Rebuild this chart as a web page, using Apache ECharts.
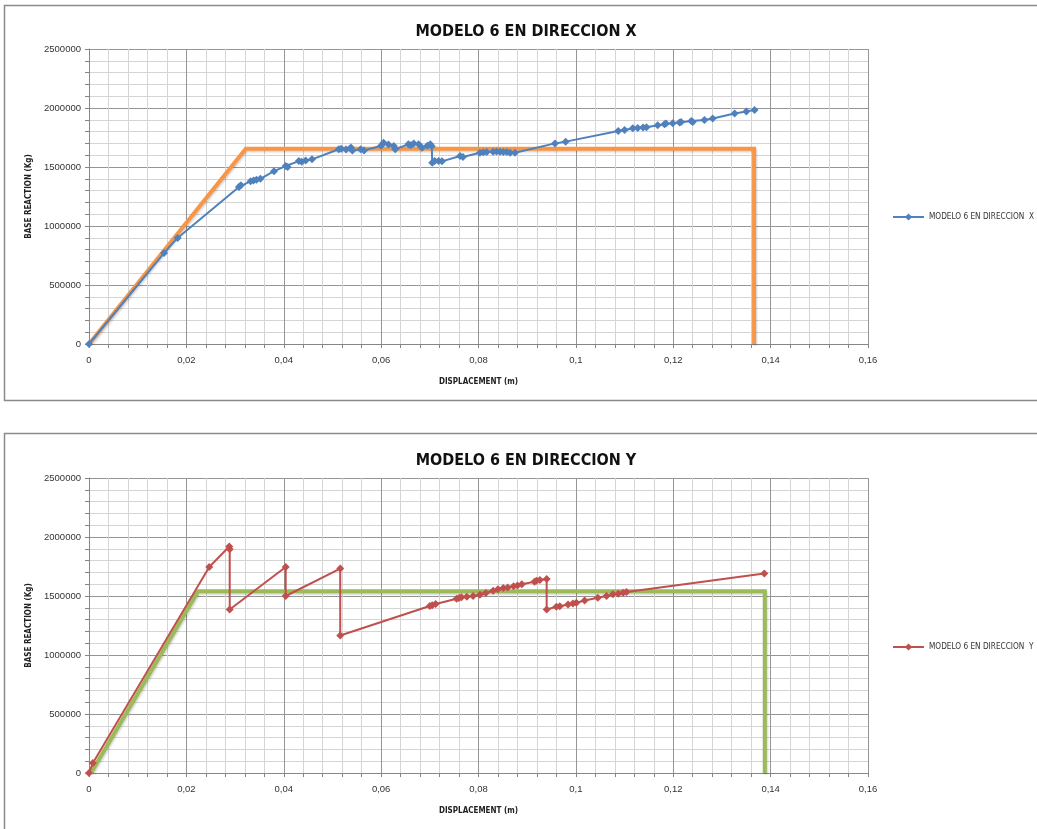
<!DOCTYPE html>
<html>
<head>
<meta charset="utf-8">
<script src="https://cdn.jsdelivr.net/npm/echarts@6/dist/echarts.min.js"></script>
<style>
  html, body { margin: 0; padding: 0; background: #ffffff; }
  #chart { width: 1037px; height: 829px; }
</style>
</head>
<body>
<div id="chart"></div>
<script>
// ---- Titles, axis names and tick settings ----
const titleX = 'MODELO 6 EN DIRECCION X';
const titleY = 'MODELO 6 EN DIRECCION Y';
const seriesNameX = 'MODELO 6 EN DIRECCION  X';
const seriesNameY = 'MODELO 6 EN DIRECCION  Y';
const xAxisName = 'DISPLACEMENT (m)';
const yAxisName = 'BASE REACTION (Kg)';
const dispTicks = [0, 0.02, 0.04, 0.06, 0.08, 0.1, 0.12, 0.14, 0.16];
const forceTicks = [0, 500000, 1000000, 1500000, 2000000, 2500000];

// ---- Pushover curve, X direction (displacement m, base reaction Kg) ----
const dispX = [0, 0.0154, 0.0182, 0.0308, 0.0312, 0.0332, 0.0338, 0.0344, 0.0352, 0.0380,
  0.0404, 0.0408, 0.0431, 0.0437, 0.0445, 0.0458, 0.0513, 0.0518, 0.0528, 0.0538,
  0.0541, 0.0558, 0.0565, 0.0600, 0.0605, 0.0615, 0.0626, 0.0629, 0.0656, 0.0661,
  0.0667, 0.0677, 0.0684, 0.0695, 0.0701, 0.0704, 0.0705, 0.0710, 0.0718, 0.0725,
  0.0762, 0.0768, 0.0803, 0.0810, 0.0817, 0.0830, 0.0837, 0.0844, 0.0851, 0.0858,
  0.0865, 0.0875, 0.0957, 0.0979, 0.1087, 0.1100, 0.1117, 0.1127, 0.1138, 0.1145,
  0.1168, 0.1182, 0.1185, 0.1199, 0.1213, 0.1216, 0.1237, 0.1240, 0.1264, 0.1281,
  0.1326, 0.1350, 0.1367];
const forceX = [0, 771000, 899000, 1330000, 1345000, 1380000, 1385000, 1392000, 1400000, 1465000,
  1508000, 1500000, 1550000, 1545000, 1556000, 1565000, 1650000, 1655000, 1648000, 1665000,
  1640000, 1650000, 1640000, 1680000, 1706000, 1690000, 1678000, 1650000, 1692000, 1685000,
  1700000, 1692000, 1664000, 1680000, 1692000, 1675000, 1537000, 1550000, 1550000, 1548000,
  1593000, 1585000, 1621000, 1625000, 1627000, 1630000, 1632000, 1630000, 1628000, 1627000,
  1621000, 1621000, 1700000, 1715000, 1805000, 1814000, 1828000, 1831000, 1834000, 1837000,
  1854000, 1862000, 1868000, 1871000, 1877000, 1882000, 1890000, 1882000, 1899000, 1911000,
  1953000, 1970000, 1984000];

// Idealized bilinear curve, X direction
const bilinDispX = [0, 0.0322, 0.1366, 0.1366];
const bilinForceX = [0, 1655000, 1655000, 0];

// ---- Pushover curve, Y direction ----
const dispY = [0, 0.0008, 0.0247, 0.0288, 0.0289, 0.0289, 0.0404, 0.0404, 0.0516, 0.0516,
  0.0700, 0.0705, 0.0712, 0.0755, 0.0760, 0.0765, 0.0776, 0.0789, 0.0803, 0.0815,
  0.0830, 0.0840, 0.0851, 0.0860, 0.0872, 0.0880, 0.0889, 0.0915, 0.0919, 0.0926,
  0.0940, 0.0940, 0.0960, 0.0967, 0.0984, 0.0994, 0.1001, 0.1018, 0.1045, 0.1063,
  0.1076, 0.1087, 0.1097, 0.1104, 0.1387];
const forceY = [0, 85000, 1746000, 1919000, 1896000, 1386000, 1746000, 1500000, 1732000, 1165000,
  1415000, 1422000, 1432000, 1477000, 1484000, 1490000, 1494000, 1500000, 1510000, 1525000,
  1545000, 1558000, 1568000, 1572000, 1582000, 1590000, 1600000, 1620000, 1630000, 1636000,
  1645000, 1386000, 1409000, 1414000, 1428000, 1437000, 1443000, 1462000, 1485000, 1500000,
  1514000, 1520000, 1528000, 1534000, 1690000];

// Idealized bilinear curve, Y direction
const bilinDispY = [0.0004, 0.0224, 0.1388, 0.1388];
const bilinForceY = [0, 1540000, 1540000, 0];

// ---- Helpers ----
const zip = (xs, ys) => xs.map((x, i) => [x, ys[i]]);
const condensed = "'DejaVu Sans Condensed', 'Liberation Sans', sans-serif";
const labelFont = "'Liberation Sans', sans-serif";

function makeXAxis(gridIndex) {
  return {
    type: 'value', gridIndex,
    min: dispTicks[0], max: dispTicks[dispTicks.length - 1], interval: dispTicks[1] - dispTicks[0],
    name: xAxisName, nameLocation: 'middle', nameGap: 34,
    nameTextStyle: { fontFamily: condensed, fontWeight: 'bold', fontSize: 8, color: '#222' },
    axisLine: { show: true, onZero: false, lineStyle: { color: '#868686', width: 1 } },
    axisTick: { show: true, length: 4, lineStyle: { color: '#868686' } },
    minorTick: { show: true, splitNumber: 5, length: 4, lineStyle: { color: '#868686' } },
    axisLabel: {
      margin: 11, fontFamily: labelFont, fontSize: 9.5, color: '#333',
      formatter: v => String(+v.toFixed(2)).replace('.', ',')
    },
    splitLine: { show: true, lineStyle: { color: '#959595', width: 1 } },
    minorSplitLine: { show: true, lineStyle: { color: '#d4d4d4', width: 1 } }
  };
}

function makeYAxis(gridIndex) {
  return {
    type: 'value', gridIndex,
    min: forceTicks[0], max: forceTicks[forceTicks.length - 1], interval: forceTicks[1] - forceTicks[0],
    name: yAxisName, nameLocation: 'middle', nameGap: 56, nameRotate: 90,
    nameTextStyle: { fontFamily: condensed, fontWeight: 'bold', fontSize: 8, color: '#222' },
    axisLine: { show: true, lineStyle: { color: '#868686', width: 1 } },
    axisTick: { show: true, length: 4, lineStyle: { color: '#868686' } },
    minorTick: { show: true, splitNumber: 5, length: 4, lineStyle: { color: '#868686' } },
    axisLabel: { margin: 8, fontFamily: labelFont, fontSize: 9.5, color: '#333', formatter: v => String(v) },
    splitLine: { show: true, lineStyle: { color: '#959595', width: 1 } },
    minorSplitLine: { show: true, lineStyle: { color: '#d4d4d4', width: 1 } }
  };
}

function bilinearSeries(name, idx, data, color) {
  return {
    name, type: 'line', xAxisIndex: idx, yAxisIndex: idx, data,
    showSymbol: false, symbol: 'none', z: 2, silent: true,
    lineStyle: {
      color, width: 4, cap: 'butt', join: 'miter',
      shadowColor: 'rgba(0,0,0,0.18)', shadowBlur: 2, shadowOffsetX: 1, shadowOffsetY: 1.5
    }
  };
}

function curveSeries(name, idx, data, color) {
  return {
    name, type: 'line', xAxisIndex: idx, yAxisIndex: idx, data,
    symbol: 'diamond', symbolSize: 8, showSymbol: true, z: 3,
    itemStyle: { color },
    lineStyle: { color, width: 2 }
  };
}

const legendStyle = { fontFamily: condensed, fontSize: 8.2, color: '#333' };

const option = {
  backgroundColor: '#ffffff',
  animation: false,
  title: [
    { text: titleX, left: 521, top: 19, textAlign: 'center',
      textStyle: { fontFamily: condensed, fontWeight: 'bold', fontSize: 16, color: '#111' } },
    { text: titleY, left: 521, top: 448, textAlign: 'center',
      textStyle: { fontFamily: condensed, fontWeight: 'bold', fontSize: 16, color: '#111' } }
  ],
  legend: [
    { data: [seriesNameX], left: 892, top: 213, itemWidth: 31, itemHeight: 9, itemGap: 0, padding: 0,
      textStyle: legendStyle, selectedMode: false },
    { data: [seriesNameY], left: 892, top: 643, itemWidth: 31, itemHeight: 9, itemGap: 0, padding: 0,
      textStyle: legendStyle, selectedMode: false }
  ],
  grid: [
    { left: 89, top: 49, width: 779, height: 295, containLabel: false },
    { left: 89, top: 478, width: 779, height: 295, containLabel: false }
  ],
  xAxis: [makeXAxis(0), makeXAxis(1)],
  yAxis: [makeYAxis(0), makeYAxis(1)],
  series: [
    bilinearSeries('Bilineal X', 0, zip(bilinDispX, bilinForceX), '#F79646'),
    curveSeries(seriesNameX, 0, zip(dispX, forceX), '#4F81BD'),
    bilinearSeries('Bilineal Y', 1, zip(bilinDispY, bilinForceY), '#9BBB59'),
    curveSeries(seriesNameY, 1, zip(dispY, forceY), '#C0504D')
  ],
  graphic: [
    { type: 'rect', silent: true, z: -10,
      shape: { x: 4.5, y: 5.5, width: 1040, height: 395 },
      style: { fill: 'none', stroke: '#8a8a8a', lineWidth: 1.5 } },
    { type: 'rect', silent: true, z: -10,
      shape: { x: 4.5, y: 433.5, width: 1040, height: 400 },
      style: { fill: 'none', stroke: '#8a8a8a', lineWidth: 1.5 } }
  ]
};

const chart = echarts.init(document.getElementById('chart'), null, { renderer: 'canvas' });
chart.setOption(option);
</script>
</body>
</html>
